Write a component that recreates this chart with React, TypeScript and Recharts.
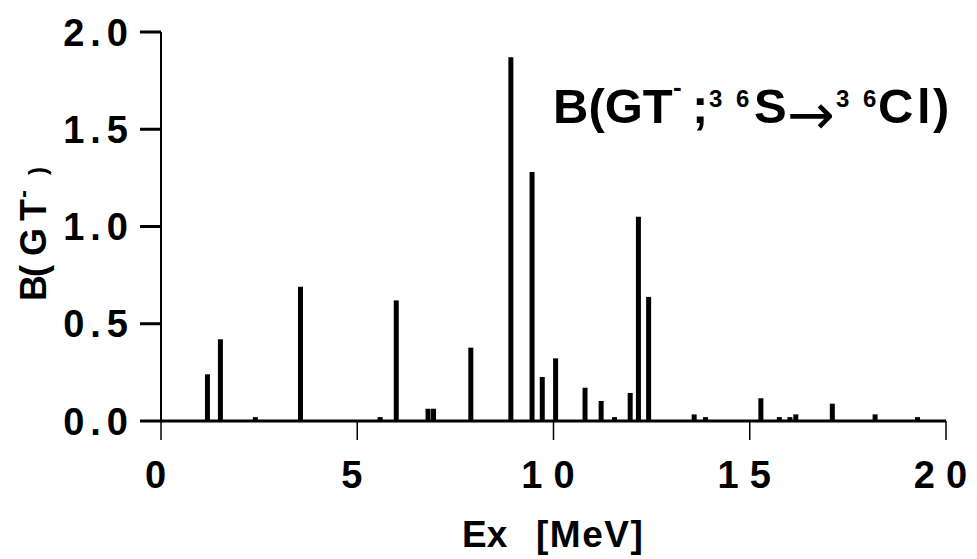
import React from "react";
import { BarChart, Bar, XAxis, YAxis } from "recharts";

// excitation energies (MeV) and GT strengths
const exEnergies = [
  1.19, 1.52, 2.41, 3.56, 5.59, 6.0, 6.81, 6.95, 7.9, 8.92, 9.46, 9.72, 10.06,
  10.81, 11.22, 11.56, 11.96, 12.17, 12.43, 13.59, 13.88, 15.29, 15.76, 16.03,
  16.18, 17.11, 18.2, 19.28,
];
const bgtValues = [
  0.24, 0.42, 0.02, 0.69, 0.02, 0.62, 0.063, 0.063, 0.377, 1.87, 1.28, 0.226,
  0.322, 0.171, 0.103, 0.02, 0.144, 1.05, 0.638, 0.034, 0.02, 0.117, 0.02,
  0.02, 0.034, 0.089, 0.034, 0.02,
];
const xTicks = [0, 5, 10, 15, 20];
const yTicks = [0, 0.5, 1.0, 1.5, 2.0];

const data = exEnergies.map((ex, i) => ({ ex, bgt: bgtValues[i] }));

const FONT = "'Liberation Sans', Arial, Helvetica, sans-serif";

const XTick = ({ x, y, payload }: any) => (
  <text
    x={x}
    y={y}
    dy={45.5}
    textAnchor="middle"
    fontFamily={FONT}
    fontWeight="bold"
    fontSize={38}
    letterSpacing={11}
    fill="#000"
  >
    {payload.value}
  </text>
);

// chrome adds the letter spacing after the last glyph too, so shift right by it
const YTick = ({ x, y, payload }: any) => (
  <text
    x={x - 10 + 6}
    y={y}
    dy={13.5}
    textAnchor="end"
    fontFamily={FONT}
    fontWeight="bold"
    fontSize={38}
    letterSpacing={6}
    fill="#000"
  >
    {Number(payload.value).toFixed(1)}
  </text>
);

export default function App() {
  return (
    <div
      style={{
        position: "absolute",
        left: 0,
        top: 0,
        width: 977,
        height: 559,
        background: "#fff",
      }}
    >
      <BarChart
        width={977}
        height={559}
        data={data}
        margin={{ top: 32, right: 31, bottom: 0, left: 0 }}
      >
        <XAxis
          dataKey="ex"
          type="number"
          domain={[0, 20]}
          ticks={xTicks}
          interval={0}
          height={138}
          tickSize={19}
          tickLine={{ stroke: "#000", strokeWidth: 1.5 }}
          axisLine={{ stroke: "#000", strokeWidth: 3 }}
          tick={<XTick />}
        />
        <YAxis
          type="number"
          domain={[0, 2]}
          ticks={yTicks}
          interval={0}
          width={161}
          tickSize={21}
          tickLine={{ stroke: "#000", strokeWidth: 3 }}
          axisLine={{ stroke: "#000", strokeWidth: 2 }}
          tick={<YTick />}
        />
        <Bar dataKey="bgt" fill="#000" barSize={5} isAnimationActive={false} />
      </BarChart>

      {/* title and axis labels */}
      <svg
        width={977}
        height={559}
        style={{ position: "absolute", left: 0, top: 0, pointerEvents: "none" }}
        fontFamily={FONT}
        fontWeight="bold"
        fill="#000"
      >
        <text fontSize={49} y={123}>
          <tspan x={553}>B(GT</tspan>
          <tspan x={673} y={96} fontSize={26}>-</tspan>
          <tspan x={692} y={123}>;</tspan>
          <tspan x={709} y={107} fontSize={24}>3</tspan>
          <tspan x={736} y={107} fontSize={24}>6</tspan>
          <tspan x={754} y={123}>S</tspan>
          <tspan
            x={787}
            y={134}
            fontFamily="'DejaVu Sans', sans-serif"
            fontWeight="normal"
            fontSize={57}
          >
            →
          </tspan>
          <tspan x={836} y={107} fontSize={24}>3</tspan>
          <tspan x={863} y={107} fontSize={24}>6</tspan>
          <tspan x={878} y={123}>C</tspan>
          <tspan x={917} y={123}>l</tspan>
          <tspan x={933} y={123}>)</tspan>
        </text>

        <text fontSize={36} transform="translate(46 301) rotate(-90)">
          <tspan x={0} y={0}>B</tspan>
          <tspan x={24} y={0}>(</tspan>
          <tspan x={45} y={0}>G</tspan>
          <tspan x={80} y={0}>T</tspan>
          <tspan x={103} y={-15} fontSize={24}>-</tspan>
          <tspan x={126} y={0} fontSize={24}>)</tspan>
        </text>

        <text fontSize={37} y={547}>
          <tspan x={462}>Ex</tspan>
          <tspan x={536} letterSpacing={1.5}>[MeV]</tspan>
        </text>
      </svg>
    </div>
  );
}
